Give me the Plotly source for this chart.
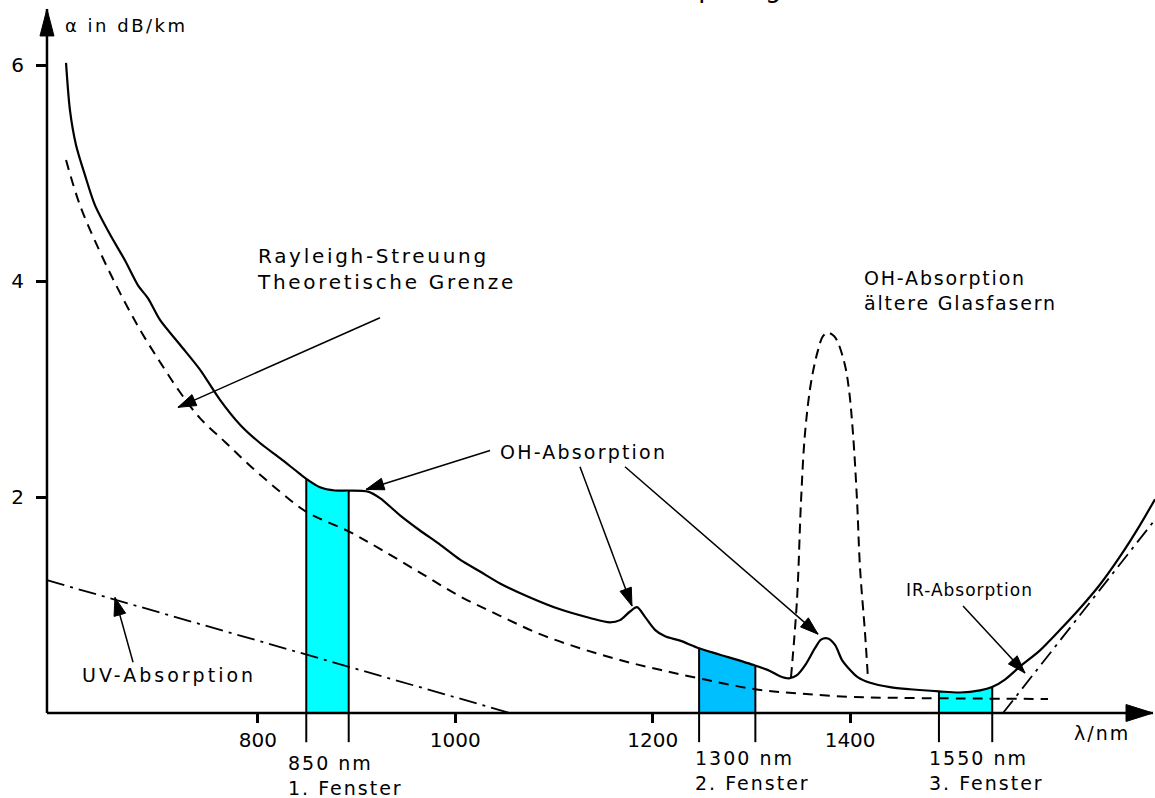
import math
import numpy as np
import plotly.graph_objects as go

# Gesamtdämpfung einer Standard-Glasfaser (Wellenlänge in nm, Dämpfung in dB/km)
total_nm = [605.6, 609.6, 615.7, 624.8, 635.0, 650.2, 665.4, 678.5, 688.7, 700.8,
            721.1, 741.3, 761.6, 781.9, 802.1, 822.4, 837.6, 848.7, 862.9, 878.1,
            892.3, 911.6, 923.7, 944.0, 964.2, 984.5, 1004.8, 1025.0, 1045.3, 1075.7,
            1106.1, 1136.5, 1156.7, 1166.9, 1177.0, 1184.1, 1192.2, 1202.3, 1212.5, 1227.7,
            1246.9, 1268.2, 1303.6, 1318.8, 1329.0, 1338.1, 1346.2, 1354.3, 1364.4, 1370.5,
            1377.6, 1384.7, 1391.8, 1397.9, 1408.0, 1420.2, 1440.4, 1460.7, 1490.1, 1511.3,
            1531.6, 1543.8, 1556.9, 1572.1, 1592.4, 1612.7, 1632.9, 1653.2, 1673.5, 1693.7,
            1708.9]
total_db = [6.02, 5.58, 5.26, 4.98, 4.70, 4.43, 4.19, 3.96, 3.84, 3.64,
            3.41, 3.18, 2.90, 2.67, 2.50, 2.36, 2.25, 2.17, 2.09, 2.06,
            2.06, 2.05, 1.99, 1.83, 1.69, 1.56, 1.42, 1.31, 1.20, 1.07,
            0.96, 0.88, 0.84, 0.86, 0.94, 0.98, 0.89, 0.77, 0.71, 0.67,
            0.60, 0.54, 0.44, 0.39, 0.34, 0.32, 0.35, 0.44, 0.60, 0.68,
            0.69, 0.63, 0.49, 0.42, 0.33, 0.28, 0.24, 0.22, 0.20, 0.19,
            0.21, 0.24, 0.31, 0.43, 0.58, 0.77, 0.97, 1.19, 1.45, 1.74,
            1.98]

# Rayleigh-Streuung (theoretische Grenze)
rayleigh_nm = [605.6, 619.8, 640.0, 660.3, 680.5, 700.8, 721.1, 741.3, 766.7, 792.0,
               822.4, 849.7, 892.3, 923.7, 964.2, 1004.8, 1045.3, 1085.8, 1126.3, 1166.9,
               1207.4, 1253.0, 1303.6, 1349.2, 1399.9, 1450.6, 1600.5]
rayleigh_db = [5.12, 4.70, 4.27, 3.89, 3.55, 3.25, 2.97, 2.73, 2.51, 2.29,
               2.05, 1.86, 1.68, 1.52, 1.30, 1.08, 0.90, 0.73, 0.60, 0.49,
               0.40, 0.31, 0.22, 0.18, 0.15, 0.14, 0.13]

# OH-Absorptionsspitze älterer Glasfasern
oh_old_nm = [1340.1, 1346.2, 1350.3, 1354.3, 1360.4, 1367.5, 1372.5, 1377.6, 1383.7, 1387.7,
             1394.8, 1398.9, 1402.9, 1407.0, 1410.0, 1415.1, 1418.1]
oh_old_db = [0.33, 1.05, 1.97, 2.59, 3.06, 3.36, 3.49, 3.52, 3.49, 3.43,
             3.22, 2.99, 2.59, 1.97, 1.35, 0.74, 0.32]

# UV- und IR-Absorption (Asymptoten)
uv_nm = [586.3, 1055.4]
uv_db = [1.23, 0.0]
ir_nm = [1554.9, 1708.9]
ir_db = [0.0, 1.79]

# Übertragungsfenster
window_lo = [849, 1247, 1490]
window_hi = [892, 1304, 1544]
window_names = ["850 nm<br>1. Fenster", "1300 nm<br>2. Fenster", "1550 nm<br>3. Fenster"]
window_colors = ["#00FFFF", "#00BFFF", "#00FFFF"]

x_ticks = [800, 1000, 1200, 1400]
y_ticks = [2, 4, 6]

W, H = 1155, 798
X_RANGE = [538.7, 1708.9]
Y_RANGE = [-0.787, 6.602]
SX = W / (X_RANGE[1] - X_RANGE[0])
SY = H / (Y_RANGE[1] - Y_RANGE[0])
AXIS_X0 = 586.3
WIN_BOTTOM = -0.27

FONT = "DejaVu Sans"

fig = go.Figure()

# Fensterflächen unter der Dämpfungskurve
for lo, hi, col in zip(window_lo, window_hi, window_colors):
    inner = [x for x in total_nm if lo < x < hi]
    xs = [lo] + inner + [hi]
    ys = list(np.interp(xs, total_nm, total_db))
    fig.add_trace(go.Scatter(x=xs, y=ys, fill="tozeroy", fillcolor=col,
                             mode="none", hoverinfo="skip"))

# Fenstergrenzen
vx, vy = [], []
for lo, hi in zip(window_lo, window_hi):
    for xb in (lo, hi):
        vx += [xb, xb, None]
        vy += [float(np.interp(xb, total_nm, total_db)), WIN_BOTTOM, None]
fig.add_trace(go.Scatter(x=vx, y=vy, mode="lines",
                         line=dict(color="black", width=2), hoverinfo="skip"))

fig.add_trace(go.Scatter(x=uv_nm, y=uv_db, mode="lines",
                         line=dict(color="black", width=1.8, dash="18px,6px,3px,6px")))
fig.add_trace(go.Scatter(x=ir_nm, y=ir_db, mode="lines",
                         line=dict(color="black", width=1.8, dash="16px,6px,3px,6px")))
fig.add_trace(go.Scatter(x=rayleigh_nm, y=rayleigh_db, mode="lines",
                         line=dict(color="black", width=2, dash="10px,7px", shape="spline")))
fig.add_trace(go.Scatter(x=oh_old_nm, y=oh_old_db, mode="lines",
                         line=dict(color="black", width=2, dash="10px,6px", shape="spline")))
fig.add_trace(go.Scatter(x=total_nm, y=total_db, mode="lines",
                         line=dict(color="black", width=2.2, shape="spline", smoothing=0.8)))


def arrow(tail, tip, length=18, width=12, lw=1.5):
    fig.add_shape(type="line", x0=tail[0], y0=tail[1], x1=tip[0], y1=tip[1],
                  line=dict(color="black", width=lw))
    dx = (tip[0] - tail[0]) * SX
    dy = (tip[1] - tail[1]) * SY
    n = math.hypot(dx, dy)
    ux, uy = dx / n, dy / n
    px, py = -uy, ux
    bx, by = -length * ux, -length * uy
    path = (f"M0,0 L{bx + width / 2 * px:.2f},{by + width / 2 * py:.2f} "
            f"L{bx - width / 2 * px:.2f},{by - width / 2 * py:.2f} Z")
    fig.add_shape(type="path", xsizemode="pixel", ysizemode="pixel",
                  xanchor=tip[0], yanchor=tip[1], path=path,
                  fillcolor="black", line=dict(color="black", width=1))


# Achsen mit Pfeilspitzen
arrow((AXIS_X0, 0), (1706.9, 0), length=27, width=17, lw=2.5)
arrow((AXIS_X0, 0), (AXIS_X0, 6.519), length=27, width=14, lw=2.5)

# Hinweispfeile
arrow((923.7, 3.66), (719.0, 2.83))
arrow((1035.2, 2.43), (909.5, 2.07))
arrow((1126.3, 2.28), (1179.0, 0.99))
arrow((1171.9, 2.28), (1367.5, 0.73))
arrow((673.5, 0.47), (655.2, 1.07))
arrow((1514.4, 0.99), (1577.2, 0.37))

# (x, y, Text, Schriftgröße, Zeichenabstand)
labels = [
    (602.5, 6.37, "α in dB/km", 18, 2.5),
    (797.1, 4.11, "Rayleigh-Streuung<br>Theoretische Grenze", 20, 2.7),
    (1043.3, 2.42, "OH-Absorption", 19, 2.2),
    (1412.1, 3.91, "OH-Absorption<br>ältere Glasfasern", 19, 1.8),
    (1454.6, 1.14, "IR-Absorption", 17, 1),
    (619.8, 0.35, "UV-Absorption", 19, 3),
    (1624.8, -0.185, "λ/nm", 19, 2),
    (828.5, -0.579, window_names[0], 19, 2),
    (1240.8, -0.532, window_names[1], 19, 2),
    (1477.9, -0.532, window_names[2], 19, 2),
]
css_rules = []
for i, (x, y, text, size, spacing) in enumerate(labels):
    fig.add_annotation(x=x, y=y, text=text, showarrow=False, xanchor="left",
                       yanchor="middle", align="left",
                       font=dict(family=FONT, size=size, color="black"))
    css_rules.append(f'.annotation[data-index="{i}"] .annotation-text{{letter-spacing:{spacing}px}}')

fig.add_annotation(xref="paper", yref="paper", x=637 / W, y=1 - 5 / H,
                   text="Dämpfung", showarrow=False, xanchor="left", yanchor="bottom",
                   font=dict(family=FONT, size=26, color="black"))
css_rules.append(f'.annotation[data-index="{len(labels)}"] .annotation-text{{letter-spacing:2px}}')

fig.update_layout(
    width=W, height=H,
    margin=dict(l=0, r=0, t=0, b=0),
    paper_bgcolor="white", plot_bgcolor="white",
    showlegend=False,
    xaxis=dict(range=X_RANGE, domain=[0, 1], anchor="free",
               position=(0 - Y_RANGE[0]) / (Y_RANGE[1] - Y_RANGE[0]),
               tickvals=x_ticks, ticks="outside", ticklen=9, tickwidth=2.5,
               tickcolor="black", showline=False, showgrid=False, zeroline=False,
               tickfont=dict(family=FONT, size=20, color="black")),
    yaxis=dict(range=Y_RANGE, domain=[0, 1], anchor="free",
               position=(AXIS_X0 - X_RANGE[0]) / (X_RANGE[1] - X_RANGE[0]),
               tickvals=y_ticks, ticks="outside", ticklen=11, tickwidth=2.5,
               tickcolor="black", showline=False, showgrid=False, zeroline=False,
               ticklabelstandoff=8,
               tickfont=dict(family=FONT, size=20, color="black")),
)

spacing_css = (
    "var s=document.createElement('style');"
    "s.textContent=" + repr("".join(css_rules)) + ";"
    "document.head.appendChild(s);"
)
fig.write_html("out.html", post_script=spacing_css)
